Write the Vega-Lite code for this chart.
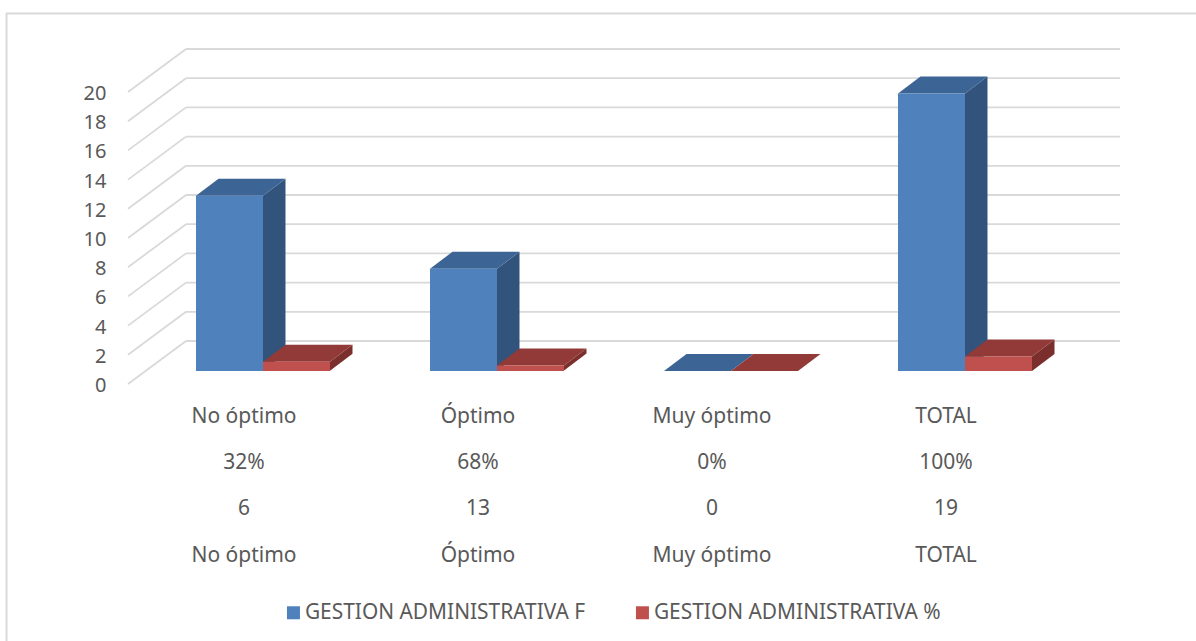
{
"$schema":"https://vega.github.io/schema/vega-lite/v6.json",
"width":1190,"height":628,
"padding":{"left":6,"top":13,"right":0,"bottom":0},
"autosize":{"type":"none"},
"background":"white",
"view":{"stroke":null},
"config":{"font":"Noto Sans"},
"datasets":{
"barras":[
{"categoria":"No óptimo","serie":"GESTION ADMINISTRATIVA F","valor":12},
{"categoria":"Óptimo","serie":"GESTION ADMINISTRATIVA F","valor":7},
{"categoria":"Muy óptimo","serie":"GESTION ADMINISTRATIVA F","valor":0},
{"categoria":"TOTAL","serie":"GESTION ADMINISTRATIVA F","valor":19},
{"categoria":"No óptimo","serie":"GESTION ADMINISTRATIVA %","valor":0.63},
{"categoria":"Óptimo","serie":"GESTION ADMINISTRATIVA %","valor":0.37},
{"categoria":"Muy óptimo","serie":"GESTION ADMINISTRATIVA %","valor":0.001},
{"categoria":"TOTAL","serie":"GESTION ADMINISTRATIVA %","valor":1}
],
"tabla":[
{"categoria":"No óptimo","porcentaje":"32%","frecuencia":"6"},
{"categoria":"Óptimo","porcentaje":"68%","frecuencia":"13"},
{"categoria":"Muy óptimo","porcentaje":"0%","frecuencia":"0"},
{"categoria":"TOTAL","porcentaje":"100%","frecuencia":"19"}
],
"rejilla":[{"v":0},{"v":2},{"v":4},{"v":6},{"v":8},{"v":10},{"v":12},{"v":14},{"v":16},{"v":18},{"v":20}]
},
"layer":[
{"data":{"values":[{}]},"mark":{"type":"rule","stroke":"#D9D9D9","strokeWidth":2},"encoding":{"x":{"value":0.5}}},
{"data":{"values":[{}]},"mark":{"type":"rule","stroke":"#D9D9D9","strokeWidth":2},"encoding":{"y":{"value":0.5}}},
{"data":{"name":"rejilla"},
 "mark":{"type":"rule","stroke":"#D9D9D9","strokeWidth":1.8,"xOffset":-135,"x2Offset":-77,"yOffset":13,"y2Offset":-30},
 "encoding":{
  "x":{"datum":"No óptimo","type":"nominal","scale":{"domain":["No óptimo","Óptimo","Muy óptimo","TOTAL"],"range":[140,1076],"paddingInner":0,"paddingOuter":0},"axis":null},
  "x2":{"datum":"No óptimo"},
  "y":{"field":"v","type":"quantitative","scale":{"domain":[0,20],"range":[358,66],"nice":false},
   "axis":{"values":[0,2,4,6,8,10,12,14,16,18,20],"orient":"left","offset":-100,"domain":false,"ticks":false,"grid":false,"title":null,"labelFontSize":20,"labelColor":"#595959","labelOffset":14.5,"labelPadding":0,"labelFont":"Noto Sans"}},
  "y2":{"field":"v"}
 }},
{"data":{"name":"rejilla"},
 "mark":{"type":"rule","stroke":"#D9D9D9","strokeWidth":1.8,"xOffset":-77,"x2Offset":155,"yOffset":-30,"y2Offset":-30},
 "encoding":{
  "x":{"datum":"No óptimo","type":"nominal"},
  "x2":{"datum":"TOTAL"},
  "y":{"field":"v","type":"quantitative"},
  "y2":{"field":"v"}
 }},
{"data":{"name":"barras"},
 "mark":{"type":"point","filled":true,"size":4,"opacity":1,"strokeWidth":0},
 "encoding":{
  "x":{"field":"categoria","type":"nominal"},
  "xOffset":{"field":"serie","type":"nominal","scale":{"domain":["GESTION ADMINISTRATIVA F","GESTION ADMINISTRATIVA %"],"paddingInner":0,"paddingOuter":0.746}},
  "y":{"field":"valor","type":"quantitative"},
  "shape":{"field":"valor","type":"nominal","legend":null,"scale":{
    "domain":[12,7,0,19,0.63,0.37,0.001,1],
    "range":[
     "M33.5,0L56,-17L56,158L33.5,175Z",
     "M33.5,0L56,-17L56,85L33.5,102Z",
     "M33.5,0L56,-17L56,-17L33.5,0Z",
     "M33.5,0L56,-17L56,260L33.5,277Z",
     "M33.5,0L56,-17L56,-8L33.5,9Z",
     "M33.5,0L56,-17L56,-12L33.5,5Z",
     "M33.5,0L56,-17L56,-17L33.5,0Z",
     "M33.5,0L56,-17L56,-2.5L33.5,14.5Z"
    ]}},
  "color":{"condition":{"test":"datum.serie==='GESTION ADMINISTRATIVA F'","value":"#32547C"},"value":"#7A2F2D"}
 }},
{"data":{"name":"barras"},
 "mark":{"type":"point","filled":true,"size":4,"opacity":1,"strokeWidth":0,"shape":"M-33.5,0L33.5,0L56,-17L-11,-17Z"},
 "encoding":{
  "x":{"field":"categoria","type":"nominal"},
  "xOffset":{"field":"serie","type":"nominal"},
  "y":{"field":"valor","type":"quantitative"},
  "color":{"condition":{"test":"datum.serie==='GESTION ADMINISTRATIVA F'","value":"#3C6494"},"value":"#913A38"}
 }},
{"data":{"name":"barras"},
 "mark":{"type":"bar"},
 "encoding":{
  "x":{"field":"categoria","type":"nominal"},
  "xOffset":{"field":"serie","type":"nominal"},
  "y":{"field":"valor","type":"quantitative","stack":null},
  "color":{"field":"serie","type":"nominal","scale":{"domain":["GESTION ADMINISTRATIVA F","GESTION ADMINISTRATIVA %"],"range":["#4F81BD","#C0504D"]},
   "legend":{"orient":"none","legendX":277,"legendY":589,"direction":"horizontal","columns":2,"title":null,"symbolType":"square","symbolSize":169,"symbolStrokeWidth":0,"labelFontSize":20.9,"labelColor":"#595959","labelLimit":400,"columnPadding":46,"labelOffset":1,"labelFont":"Noto Sans"}}
 }},
{"data":{"name":"tabla"},"mark":{"type":"text","fontSize":21,"color":"#595959","dx":-19,"yOffset":46,"font":"Noto Sans"},
 "encoding":{"x":{"field":"categoria","type":"nominal"},"y":{"datum":0,"type":"quantitative"},"text":{"field":"categoria"}}},
{"data":{"name":"tabla"},"mark":{"type":"text","fontSize":21,"color":"#595959","dx":-19,"yOffset":92,"font":"Noto Sans"},
 "encoding":{"x":{"field":"categoria","type":"nominal"},"y":{"datum":0,"type":"quantitative"},"text":{"field":"porcentaje"}}},
{"data":{"name":"tabla"},"mark":{"type":"text","fontSize":21,"color":"#595959","dx":-19,"yOffset":138,"font":"Noto Sans"},
 "encoding":{"x":{"field":"categoria","type":"nominal"},"y":{"datum":0,"type":"quantitative"},"text":{"field":"frecuencia"}}},
{"data":{"name":"tabla"},"mark":{"type":"text","fontSize":21,"color":"#595959","dx":-19,"yOffset":185,"font":"Noto Sans"},
 "encoding":{"x":{"field":"categoria","type":"nominal"},"y":{"datum":0,"type":"quantitative"},"text":{"field":"categoria"}}}
]
}
